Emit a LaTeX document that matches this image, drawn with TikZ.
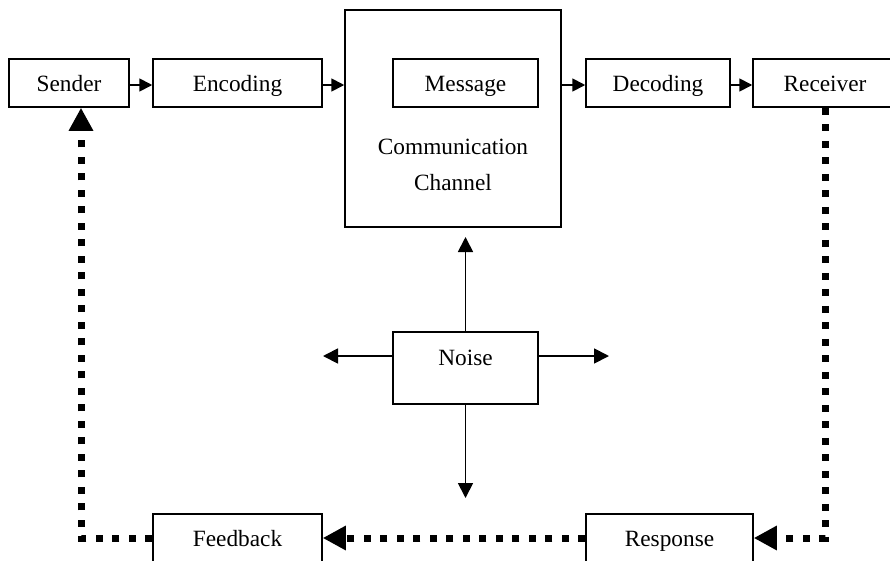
\documentclass[tikz,border=0pt]{standalone}
\usepackage{fontspec}
\setmainfont{Liberation Serif}
\usetikzlibrary{arrows.meta}
\begin{document}
\begin{tikzpicture}[x=1pt,y=-1pt,
  txt/.style={font=\fontsize{23.3}{36}\selectfont},
  box/.style={txt, draw, line width=1.5pt, inner sep=0pt, minimum height=48pt, text height=20pt, text depth=2.6pt},
  solidarr/.style={line width=1.8pt, -{Triangle[length=13pt,width=13pt]}},
  noisearr/.style={line width=1.8pt, -{Triangle[length=15pt,width=15pt]}},
  dotarr/.style={line width=7pt, dash pattern=on 7pt off 9.5pt, -{Triangle[length=23pt,width=23pt]}},
]
\useasboundingbox (0,0) rectangle (890,560);
% top row
\node[box, minimum width=120pt] (sender) at (69,83) {Sender};
\node[box, minimum width=169pt] (encoding) at (237.5,83) {Encoding};
\node[box, minimum width=216pt, minimum height=217pt] (channel) at (453,118.5) {};
\node[box, minimum width=145pt] (message) at (465.5,83) {Message};
\node[txt, align=center] (chtext) at (453,165) {Communication\\Channel};
\node[box, minimum width=144pt] (decoding) at (658,83) {Decoding};
\node[box, minimum width=144pt] (receiver) at (825,83) {Receiver};
% noise
\node[box, minimum width=145pt, minimum height=72pt, text height=16pt, text depth=22pt] (noise) at (465.5,368) {Noise};
% bottom row
\node[box, minimum width=169pt] (feedback) at (237.5,538) {Feedback};
\node[box, minimum width=167pt] (response) at (669.5,538) {Response};
% coordinates
\coordinate (uptip) at (465.5,237);
\coordinate (dntip) at (465.5,498);
\coordinate (lftip) at (323,356);
\coordinate (rttip) at (609,356);
\coordinate (fbcorner) at (81,538);
% solid arrows
\draw[solidarr] ([yshift=-2pt]sender.east) -- ([yshift=-2pt]encoding.west);
\draw[solidarr] ([yshift=-2pt]encoding.east) -- ([yshift=-2pt]channel.west |- encoding.east);
\draw[solidarr] ([yshift=-2pt]channel.east |- decoding.west) -- ([yshift=-2pt]decoding.west);
\draw[solidarr] ([yshift=-2pt]decoding.east) -- ([yshift=-2pt]receiver.west);
% noise arrows
\draw[noisearr] (noise.north) -- (uptip);
\draw[noisearr] (noise.south) -- (dntip);
\draw[noisearr] ([yshift=12pt]noise.west) -- (lftip);
\draw[noisearr] ([yshift=12pt]noise.east) -- (rttip);
% feedback loop
\draw[dotarr] (receiver.south) -- (receiver.south |- response.east) -- (response.east);
\draw[dotarr] (response.west) -- (feedback.east);
\draw[dotarr] (feedback.west) -- (fbcorner) -- (fbcorner |- sender.south);
\end{tikzpicture}
\end{document}
